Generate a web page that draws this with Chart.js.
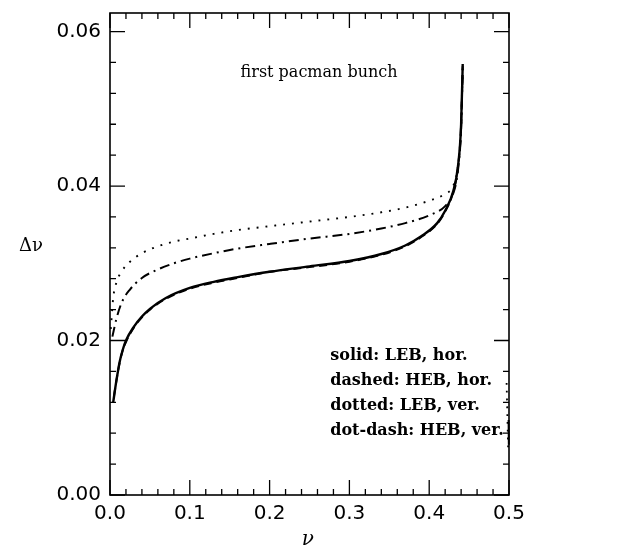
<!DOCTYPE html>
<html>
<head>
<meta charset="utf-8">
<script src="https://cdn.jsdelivr.net/npm/chart.js@4.4.1/dist/chart.umd.min.js"></script>
<style>
  html, body { margin: 0; padding: 0; background: #fff; }
  #wrap { width: 618px; height: 552px; }
</style>
</head>
<body>
<div id="wrap"><canvas id="c" width="618" height="552"></canvas></div>
<script>
// ---- data ----
const solidX   = [0.004, 0.008, 0.012, 0.016, 0.02, 0.03, 0.04, 0.05, 0.07, 0.10, 0.13, 0.16, 0.20, 0.25, 0.30, 0.34, 0.37, 0.39, 0.41, 0.42, 0.43, 0.436, 0.44, 0.442];
const solidY   = [0.0120, 0.0148, 0.0172, 0.0188, 0.0200, 0.0218, 0.0231, 0.0241, 0.0255, 0.0268, 0.0276, 0.0282, 0.0289, 0.0296, 0.0303, 0.0312, 0.0323, 0.0335, 0.0352, 0.0368, 0.0393, 0.0425, 0.0480, 0.0558];

const dashedX  = [0.005, 0.010, 0.015, 0.02, 0.03, 0.04, 0.05, 0.07, 0.10, 0.13, 0.16, 0.20, 0.25, 0.30, 0.34, 0.37, 0.39, 0.41, 0.42, 0.43, 0.436, 0.44, 0.442];
const dashedY  = [0.0128, 0.0160, 0.0184, 0.0198, 0.0217, 0.0230, 0.0240, 0.0254, 0.0267, 0.0275, 0.0281, 0.0289, 0.0295, 0.0302, 0.0311, 0.0322, 0.0334, 0.0351, 0.0367, 0.0392, 0.0424, 0.0480, 0.0555];

const dottedX  = [0.001, 0.004, 0.008, 0.015, 0.025, 0.04, 0.06, 0.08, 0.10, 0.13, 0.16, 0.20, 0.25, 0.30, 0.34, 0.37, 0.40, 0.42, 0.43, 0.436, 0.44, 0.442];
const dottedY  = [0.0215, 0.0255, 0.0275, 0.0290, 0.0302, 0.0313, 0.0322, 0.0328, 0.0332, 0.0338, 0.0343, 0.0348, 0.0354, 0.0360, 0.0366, 0.0372, 0.0381, 0.0390, 0.0400, 0.0425, 0.0475, 0.0550];

const dotDashX = [0.003, 0.008, 0.015, 0.025, 0.04, 0.06, 0.08, 0.10, 0.13, 0.16, 0.20, 0.25, 0.30, 0.34, 0.37, 0.40, 0.42, 0.43, 0.436, 0.44, 0.442];
const dotDashY = [0.0205, 0.0228, 0.0250, 0.0266, 0.0281, 0.0292, 0.0300, 0.0306, 0.0313, 0.0319, 0.0325, 0.0332, 0.0338, 0.0345, 0.0352, 0.0362, 0.0374, 0.0390, 0.0420, 0.0475, 0.0552];

// short pieces visible at the right edge (nu -> 0.5)
const dottedTailX  = [0.497, 0.499];
const dottedTailY  = [0.0145, 0.0058];
const dotDashTailX = [0.4995, 0.4998];
const dotDashTailY = [0.0097, 0.0065];

const xTickValues = [0.0, 0.1, 0.2, 0.3, 0.4, 0.5];
const xTickLabels = ["0.0", "0.1", "0.2", "0.3", "0.4", "0.5"];
const yTickValues = [0.00, 0.02, 0.04, 0.06];
const yTickLabels = ["0.00", "0.02", "0.04", "0.06"];
const xMinorStep = 0.02, yMinorStep = 0.004;
const xMin = 0, xMax = 0.5, yMin = 0, yMax = 0.0624;

const titleText = "first pacman bunch";
const legendLines = ["solid: LEB, hor.", "dashed: HEB, hor.", "dotted: LEB, ver.", "dot-dash: HEB, ver."];
const yAxisTitle = "\u0394\u03bd";
const xAxisTitle = "\u03bd";

function pts(xs, ys) { return xs.map((x, i) => ({ x: x, y: ys[i] })); }

const frameAndText = {
  id: 'frameAndText',
  afterDatasetsDraw(chart) {
    const ctx = chart.ctx;
    const a = chart.chartArea;
    const xs = chart.scales.x, ys = chart.scales.y;
    ctx.save();
    ctx.strokeStyle = '#000';
    ctx.lineWidth = 1.6;
    ctx.strokeRect(a.left, a.top, a.right - a.left, a.bottom - a.top);
    ctx.lineWidth = 1.3;
    for (let k = 0; k * xMinorStep <= xMax + 1e-9; k++) {
      const v = k * xMinorStep;
      const len = (k % 5 === 0) ? 15 : 6;
      const px = xs.getPixelForValue(v);
      ctx.beginPath();
      ctx.moveTo(px, a.bottom); ctx.lineTo(px, a.bottom - len);
      ctx.moveTo(px, a.top); ctx.lineTo(px, a.top + len);
      ctx.stroke();
    }
    for (let k = 0; k * yMinorStep <= yMax + 1e-9; k++) {
      const v = k * yMinorStep;
      const len = (k % 5 === 0) ? 15 : 6;
      const py = ys.getPixelForValue(v);
      ctx.beginPath();
      ctx.moveTo(a.left, py); ctx.lineTo(a.left + len, py);
      ctx.moveTo(a.right, py); ctx.lineTo(a.right - len, py);
      ctx.stroke();
    }
    ctx.fillStyle = '#000';
    ctx.textBaseline = 'middle';
    ctx.textAlign = 'center';
    ctx.font = '16px "DejaVu Serif"';
    ctx.fillText(titleText, xs.getPixelForValue(0.262), ys.getPixelForValue(0.0547));
    ctx.textAlign = 'left';
    ctx.font = 'bold 16px "DejaVu Serif"';
    const lx = xs.getPixelForValue(0.276);
    const ly0 = ys.getPixelForValue(0.0180);
    legendLines.forEach((t, i) => ctx.fillText(t, lx, ly0 + i * 25));
    ctx.textAlign = 'center';
    ctx.font = '18px "DejaVu Serif"';
    ctx.fillText(yAxisTitle, 31, ys.getPixelForValue(0.0322));
    ctx.font = 'italic 20px "DejaVu Serif"';
    ctx.fillText(xAxisTitle, xs.getPixelForValue(0.248), 540);
    ctx.restore();
  }
};

new Chart(document.getElementById('c'), {
  type: 'line',
  data: {
    datasets: [
      { label: 'dashed: HEB, hor.', data: pts(dashedX, dashedY), borderColor: '#000', borderWidth: 2, borderDash: [8, 5] },
      { label: 'solid: LEB, hor.', data: pts(solidX, solidY), borderColor: '#000', borderWidth: 2.4 },
      { label: 'dotted: LEB, ver.', data: pts(dottedX, dottedY), borderColor: '#000', borderWidth: 1.9, borderDash: [1.9, 7] },
      { label: 'dot-dash: HEB, ver.', data: pts(dotDashX, dotDashY), borderColor: '#000', borderWidth: 2, borderDash: [10, 5, 2, 5] },
      { label: 'dotted tail', data: pts(dottedTailX, dottedTailY), borderColor: '#000', borderWidth: 1.8, borderDash: [1.8, 6] },
      { label: 'dot-dash tail', data: pts(dotDashTailX, dotDashTailY), borderColor: '#000', borderWidth: 2 }
    ]
  },
  options: {
    responsive: false,
    animation: false,
    clip: false,
    elements: { point: { radius: 0 }, line: { cubicInterpolationMode: 'monotone', fill: false } },
    layout: { padding: { top: 13, right: 109, left: 0, bottom: 0 } },
    plugins: { legend: { display: false }, tooltip: { enabled: false }, title: { display: false } },
    scales: {
      x: {
        type: 'linear', min: xMin, max: xMax,
        grid: { display: false, drawTicks: false },
        border: { display: false },
        afterBuildTicks: s => { s.ticks = xTickValues.map(v => ({ value: v })); },
        afterFit: s => { s.height = 57; s.paddingLeft = 0; s.paddingRight = 0; },
        ticks: {
          padding: 7, color: '#000', maxRotation: 0, autoSkip: false,
          font: { family: 'DejaVu Sans', size: 20 },
          callback: (v) => { const i = xTickValues.findIndex(t => Math.abs(t - v) < 1e-9); return i >= 0 ? xTickLabels[i] : ''; }
        }
      },
      y: {
        type: 'linear', min: yMin, max: yMax,
        grid: { display: false, drawTicks: false },
        border: { display: false },
        afterBuildTicks: s => { s.ticks = yTickValues.map(v => ({ value: v })); },
        afterFit: s => { s.width = 110; s.paddingTop = 0; s.paddingBottom = 0; },
        ticks: {
          padding: 9, color: '#000', autoSkip: false,
          font: { family: 'DejaVu Sans', size: 20 },
          callback: (v) => { const i = yTickValues.findIndex(t => Math.abs(t - v) < 1e-9); return i >= 0 ? yTickLabels[i] : ''; }
        }
      }
    }
  },
  plugins: [frameAndText]
});
</script>
</body>
</html>
